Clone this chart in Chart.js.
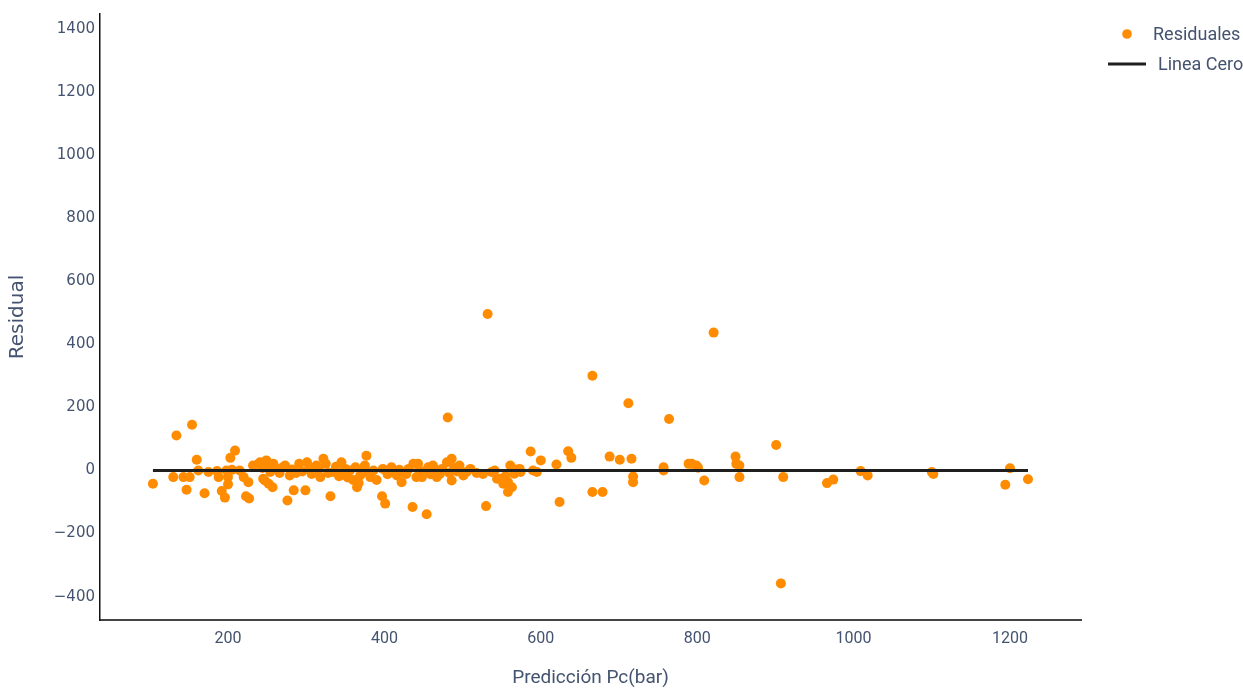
<!DOCTYPE html>
<html>
<head>
<meta charset="utf-8">
<script src="https://cdn.jsdelivr.net/npm/chart.js@4/dist/chart.umd.min.js"></script>
<style>
  html, body { margin: 0; padding: 0; background: #fff; }
  canvas { display: block; }
</style>
</head>
<body>
<canvas id="myChart" width="1243" height="690"></canvas>
<script>
// DATA
const predicted = [
  104, 130, 134, 143, 147, 151, 154, 160, 162, 170, 175, 186, 188, 192, 196, 198, 200, 200, 203, 205,
  209, 215, 220, 223, 226, 227, 232, 239,
  241, 244, 245, 247, 249, 250, 252, 254, 257, 258, 262, 266, 270, 273, 276, 279, 282, 284, 287, 291,
  295, 299, 301, 304, 307, 310, 313, 316, 318, 322, 325, 328, 331, 335, 338, 342, 345, 347, 350, 353,
  356, 360, 363, 365, 367, 369, 372, 375, 377, 380, 382, 386, 390,
  397, 398, 401, 404, 409, 412, 416, 419, 422, 425, 428, 431, 436, 437, 441, 443, 445, 448, 451, 454,
  456, 459, 462, 465, 467, 471, 474, 480, 481, 483, 486, 486, 489, 493, 496, 501, 505, 510, 518, 526,
  530, 532, 537, 541, 544, 548, 552, 554, 555, 558, 558, 561, 563, 566, 568, 573, 574,
  587, 590, 595, 600, 620, 624, 635, 639, 666, 666, 679, 688, 701, 712, 716, 718, 718, 757, 757, 764,
  789, 793, 799, 801, 809, 821, 849, 850, 854, 854, 901, 907, 910, 966, 974, 1009, 1018, 1100, 1102,
  1194, 1200, 1223
];
const residuals = [
  -42, -21, 111, -21, -61, -21, 145, 34, 0, -72, -5, -2, -21, -65, -86, 0, -21, -44, 40, 2,
  63, 0, -21, -82, -37, -89, 16, 21,
  26, 8, -26, -32, 32, 12, -42, -5, -53, 21, 5, -8, 10, 16, -95, -16, 3, -63, -8, 21,
  -3, -63, 26, 8, -11, -2, 16, 5, -21, 37, 21, -8, -82, -5, 12, -18, 26, -11, 5, -22,
  0, -30, 10, -53, -40, -16, 3, 16, 47, -8, -21, 0, -30,
  -82, 5, -105, -12, 10, -3, -16, 2, -37, -8, -11, 5, -116, 21, -21, 21, 0, -21, -5, -139,
  10, -12, 16, 3, -21, -11, 5, 26, 168, -8, 37, -32, 8, -3, 16, -16, -5, 5, -8, -11,
  -113, 496, -5, 0, -26, -26, -42, -32, -18, -37, -68, 16, -53, -10, 3, 5, -5,
  60, 0, -5, 32, 19, -100, 61, 40, -68, 300, -68, 44, 34, 213, 37, -19, -37, 10, 0, 163,
  21, 21, 16, 9, -32, 437, 44, 21, 16, -21, 81, -358, -21, -40, -29, -2, -16, -5, -11,
  -45, 7, -28
];
const zeroLineX = [104, 1223];
const zeroLineY = [0, 0];
const xTicks = [200, 400, 600, 800, 1000, 1200];
const yTicks = [-400, -200, 0, 200, 400, 600, 800, 1000, 1200, 1400];
const seriesNames = ['Residuales', 'Linea Cero'];

const textColor = '#44536f';
const orange = '#ff8c00';
const narrow = 'Roboto, "Liberation Sans Narrow", sans-serif';

// LEGEND (drawn by hand, top right outside the plot)
const legendPlugin = {
  id: 'sideLegend',
  afterDraw(chart) {
    const c = chart.ctx;
    c.save();
    c.font = '18px ' + narrow;
    c.textBaseline = 'middle';
    c.textAlign = 'left';
    c.beginPath();
    c.arc(1127, 34, 4.8, 0, Math.PI * 2);
    c.fillStyle = orange;
    c.fill();
    c.fillStyle = textColor;
    c.fillText(seriesNames[0], 1153, 35);
    c.beginPath();
    c.moveTo(1108, 64);
    c.lineTo(1146, 64);
    c.lineWidth = 3;
    c.strokeStyle = '#1f1f1f';
    c.stroke();
    c.fillText(seriesNames[1], 1158, 65);
    c.restore();
  }
};

const ctx = document.getElementById('myChart');

new Chart(ctx, {
  type: 'scatter',
  data: {
    datasets: [{
      label: seriesNames[0],
      data: predicted.map((x, i) => ({x: x, y: residuals[i]})),
      backgroundColor: orange,
      borderWidth: 0,
      pointRadius: 5,
      order: 1
    }, {
      label: seriesNames[1],
      type: 'line',
      data: zeroLineX.map((x, i) => ({x: x, y: zeroLineY[i]})),
      borderColor: '#1f1f1f',
      borderWidth: 3,
      pointRadius: 0,
      order: 0
    }]
  },
  options: {
    responsive: false,
    animation: false,
    layout: { padding: { top: 12, right: 162, bottom: 0, left: 0 } },
    plugins: {
      legend: { display: false },
      tooltip: { enabled: false }
    },
    scales: {
      x: {
        type: 'linear',
        min: 36.3,
        max: 1290.8,
        afterBuildTicks: (scale) => { scale.ticks = xTicks.map(v => ({value: v})); },
        afterFit: (scale) => { scale.height = 70; },
        grid: { display: false, drawTicks: false },
        border: { display: true, color: '#444', width: 2 },
        ticks: {
          padding: 9,
          color: textColor,
          font: { family: narrow, size: 16 },
          callback: (v) => String(v)
        },
        title: {
          display: true,
          text: 'Predicción Pc(bar)',
          color: textColor,
          padding: { top: 0, bottom: 0 },
          font: { family: narrow, size: 19 }
        }
      },
      y: {
        min: -474,
        max: 1447,
        afterBuildTicks: (scale) => { scale.ticks = yTicks.map(v => ({value: v})); },
        afterFit: (scale) => { scale.width = 100; },
        grid: { display: false, drawTicks: false },
        border: { display: true, color: '#111', width: 1.5 },
        ticks: {
          padding: 5,
          color: textColor,
          font: { family: '"DejaVu Sans", Verdana, sans-serif', size: 15 },
          callback: (v) => String(v).replace('-', '\u2212')
        },
        title: {
          display: true,
          text: 'Residual',
          color: textColor,
          padding: { top: 6, bottom: 0 },
          font: { family: '"DejaVu Sans", Verdana, sans-serif', size: 20 }
        }
      }
    }
  },
  plugins: [legendPlugin]
});
</script>
</body>
</html>
